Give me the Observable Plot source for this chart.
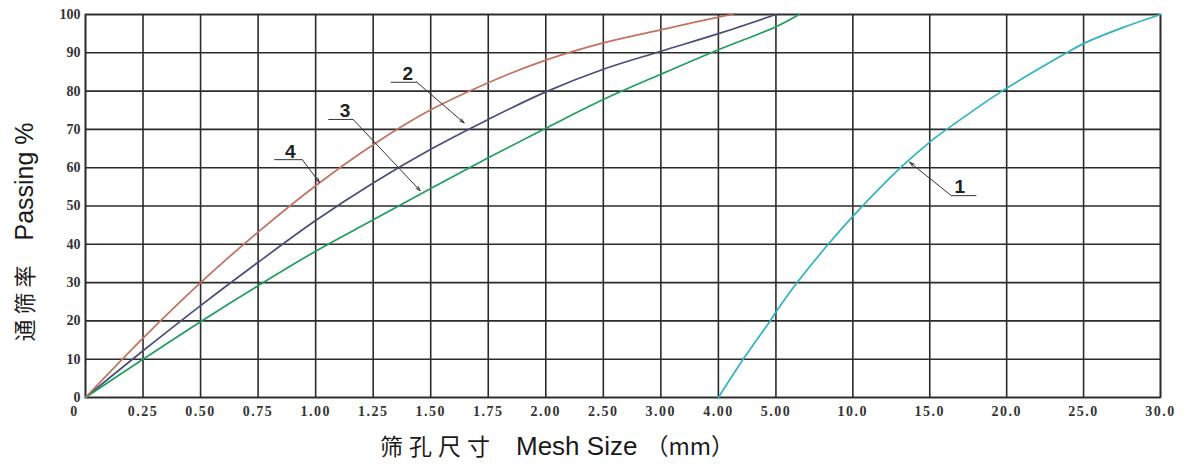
<!DOCTYPE html>
<html><head><meta charset="utf-8">
<script src="https://cdn.jsdelivr.net/npm/d3@7"></script>
<script src="https://cdn.jsdelivr.net/npm/@observablehq/plot@0.6"></script>
<style>
body{margin:0;background:#fff;}
#chart svg{display:block;}
g[aria-label="x-axis tick label"] text{letter-spacing:1.5px;}
</style></head><body><div id="chart"></div>
<script>
// Axis ticks
const xTicks = [0,0.25,0.5,0.75,1,1.25,1.5,1.75,2,2.5,3,4,5,10,15,20,25,30];
const xTickLabels = ["0","0.25","0.50","0.75","1.00","1.25","1.50","1.75","2.00","2.50","3.00","4.00","5.00","10.0","15.0","20.0","25.0","30.0"];
const yTicks = [0,10,20,30,40,50,60,70,80,90,100];

// Curve 1 (cyan)
const c1X = [4,4.43,4.9,5,6.38,8.4,10,13.1,15,16.1,19.7,23.9,25,27.5,30];
const c1Y = [0,10,20,22.3,30,40,47.3,60,66.7,70,80,90,92.4,96.5,100];
// Curve 2 (slate blue)
const c2X = [0,0.25,0.5,0.75,1,1.25,1.5,1.75,2,2.5,3,4,5];
const c2Y = [0,12.2,24,35.3,46.2,56,64.8,72.6,79.8,85.7,90.4,95,100];
// Curve 3 (green)
const c3X = [0,0.25,0.5,0.75,1,1.25,1.5,1.75,2,2.5,3,4,5,6.5];
const c3Y = [0,10,19.8,29.2,38.2,46.4,54.6,62.6,70.3,77.8,84.4,90.8,96.8,100];
// Curve 4 (red-brown)
const c4X = [0,0.25,0.5,0.75,1,1.25,1.5,1.75,2,2.5,3,4,4.25];
const c4Y = [0,15.5,30,43.2,55.3,66,75.1,82.2,88.1,92.6,96,99.3,100];

const seriesColors = ["#2fb3c4","#4a4c7e","#1e9e5e","#c4725f"];

// Annotation labels (data units: mm, %)
const annLabels = ["1","2","3","4"];
const annTextX = [16.95,1.40,1.128,0.89];
const annTextY = [55.0,84.4,74.9,64.2];
const annLineXOuter = [18.03,1.327,1.055,0.82];
const annLineXElbow = [16.4,1.44,1.163,0.942];
const annLineY = [52.7,82.3,72.6,62.1];
const annTipX = [13.7,1.645,1.454,1.016];
const annTipY = [61.4,71.7,54.0,56.2];

const W = 1185, H = 464, ml = 85, mr = 25, mt = 14, mb = 67;
// The mesh-size axis is piecewise: equal cells up to 5 mm, wider cells from 5 to 30 mm.
const ratio = 77/57.6;
const cellPos = xTicks.map((_, i) => i <= 12 ? i : 12 + (i-12)*ratio);
const pos = d3.scaleLinear().domain(xTicks).range(cellPos);

const toRows = (xs, ys) => xs.map((x, i) => ({x: pos(x), y: ys[i]}));
const series = [toRows(c1X,c1Y), toRows(c2X,c2Y), toRows(c3X,c3Y), toRows(c4X,c4Y)];
const xTickPos = xTicks.map(pos);
const fmtX = d => xTickLabels[xTickPos.findIndex(p => Math.abs(p - d) < 1e-6)];

const gridStyle = {stroke:"#2b2b2b", strokeOpacity:1, strokeWidth:1.6};
const tickFont = {fontFamily:"Liberation Serif, DejaVu Serif, serif", fontSize:14, fontWeight:"bold", fill:"#333"};

const chart = Plot.plot({
  width: W, height: H,
  marginLeft: ml, marginRight: mr, marginTop: mt, marginBottom: mb,
  x: {domain: [pos(0), pos(30)]},
  y: {domain: [0,100]},
  marks: [
    Plot.gridX(xTickPos, gridStyle),
    Plot.gridY(yTicks, gridStyle),
    Plot.frame({stroke:"#2b2b2b", strokeWidth:1.6}),
    Plot.axisY(yTicks, {tickSize:0, tickPadding:5, label:null, ...tickFont}),
    Plot.axisX(xTickPos.slice(1), {tickSize:0, tickPadding:9, label:null, tickFormat: fmtX, ...tickFont}),
    Plot.axisX([xTickPos[0]], {tickSize:0, tickPadding:9, label:null, dx:-11, tickFormat: fmtX, ...tickFont}),
    ...series.map((rows, i) => Plot.line(rows, {x:"x", y:"y", stroke: seriesColors[i], strokeWidth:1.7, curve:"catmull-rom"})),
    Plot.link(annLabels, {x1: annLineXOuter.map(pos), y1: annLineY, x2: annLineXElbow.map(pos), y2: annLineY, stroke:"#333", strokeWidth:1}),
    Plot.arrow(annLabels, {x1: annLineXElbow.map(pos), y1: annLineY, x2: annTipX.map(pos), y2: annTipY, stroke:"#333", strokeWidth:1, headLength:7, headAngle:35}),
    Plot.text(annLabels, {x: annTextX.map(pos), y: annTextY, text: d => d, fontSize:19, fontWeight:"bold", fontFamily:"Liberation Sans, Arial, sans-serif", fill:"#222"})
  ]
});
document.getElementById("chart").appendChild(chart);

const svg = d3.select(chart);
// Y axis title
const yt = svg.append("text")
  .attr("transform", "translate(33,232) rotate(-90)")
  .attr("text-anchor", "middle")
  .attr("fill", "#1a1a1a");
yt.append("tspan").text("通筛率").attr("font-family","Noto Sans CJK SC, sans-serif").attr("font-size",22).attr("letter-spacing","5px");
yt.append("tspan").text("Passing %").attr("dx", 20).attr("font-family","Liberation Sans, Arial, sans-serif").attr("font-size",25);

// X axis title
const xt = svg.append("text")
  .attr("x", 380).attr("y", 455)
  .attr("text-anchor", "start")
  .attr("fill", "#1a1a1a");
xt.append("tspan").text("筛孔尺寸").attr("font-family","Noto Sans CJK SC, sans-serif").attr("font-size",23).attr("letter-spacing","6px");
xt.append("tspan").text("Mesh Size").attr("dx", 20).attr("font-family","Liberation Sans, Arial, sans-serif").attr("font-size",26);
xt.append("tspan").text("（mm）").attr("dx", 8).attr("font-family","Noto Sans CJK SC, sans-serif").attr("font-size",23);
</script>
</body></html>
